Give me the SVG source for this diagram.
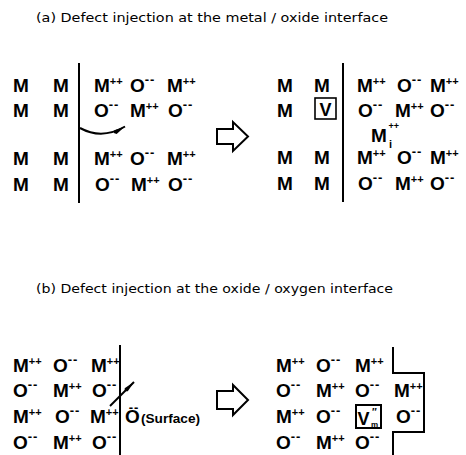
<svg xmlns="http://www.w3.org/2000/svg" width="466" height="455" viewBox="0 0 466 455">
  <defs>
    <style>
      .title { font-family: "DejaVu Sans", "Liberation Sans", sans-serif; font-size: 12px; fill: #000; }
      .ion { font-family: "Liberation Sans", Arial, sans-serif; font-size: 19px; font-weight: bold; fill: #000; }
      .sp { font-size: 11px; }
      .sm { font-size: 13px; letter-spacing: 1px; }
      .small { font-family: "Liberation Sans", Arial, sans-serif; font-size: 12px; font-weight: bold; fill: #000; }
      .line { stroke: #000; stroke-width: 2; fill: none; }
      .box { stroke: #000; stroke-width: 1.6; fill: none; }
      .block { stroke: #000; stroke-width: 2; fill: #fff; stroke-linejoin: miter; }
    </style>
    <marker id="head" markerUnits="userSpaceOnUse" markerWidth="14" markerHeight="6" refX="13" refY="3" orient="auto">
      <path d="M0,3 L2,0.8 L13,3 L2,5.2 Z" fill="#000"/>
    </marker>
  </defs>

  <!-- panel (a) -->
  <text class="title" x="36" y="22" textLength="352" lengthAdjust="spacingAndGlyphs">(a) Defect injection at the metal / oxide interface</text>

  <g id="a-metal-before">
    <text class="ion" x="13" y="92">M</text><text class="ion" x="53" y="92">M</text>
    <text class="ion" x="13" y="117">M</text><text class="ion" x="53" y="117">M</text>
    <text class="ion" x="13" y="165">M</text><text class="ion" x="53" y="165">M</text>
    <text class="ion" x="13" y="191">M</text><text class="ion" x="53" y="191">M</text>
  </g>
  <g id="a-oxide-before">
    <text class="ion" x="94" y="92">M<tspan class="sp" dy="-7">++</tspan></text>
    <text class="ion" x="130" y="92">O<tspan class="sm" dy="-8">--</tspan></text>
    <text class="ion" x="167" y="92">M<tspan class="sp" dy="-7">++</tspan></text>
    <text class="ion" x="94" y="117">O<tspan class="sm" dy="-8">--</tspan></text>
    <text class="ion" x="130" y="117">M<tspan class="sp" dy="-7">++</tspan></text>
    <text class="ion" x="168" y="117">O<tspan class="sm" dy="-8">--</tspan></text>
    <text class="ion" x="94" y="165">M<tspan class="sp" dy="-7">++</tspan></text>
    <text class="ion" x="130" y="165">O<tspan class="sm" dy="-8">--</tspan></text>
    <text class="ion" x="167" y="165">M<tspan class="sp" dy="-7">++</tspan></text>
    <text class="ion" x="95" y="191">O<tspan class="sm" dy="-8">--</tspan></text>
    <text class="ion" x="131" y="191">M<tspan class="sp" dy="-7">++</tspan></text>
    <text class="ion" x="168" y="191">O<tspan class="sm" dy="-8">--</tspan></text>
  </g>

  <g id="a-transform">
    <polygon class="block" points="217,129 233,129 233,122 248,136.5 233,151 233,144 217,144"/>
  </g>

  <g id="a-metal-after">
    <text class="ion" x="277" y="92">M</text><text class="ion" x="314" y="92">M</text>
    <text class="ion" x="277" y="117">M</text>
    <text class="ion" x="277" y="164">M</text><text class="ion" x="314" y="164">M</text>
    <text class="ion" x="277" y="190">M</text><text class="ion" x="314" y="190">M</text>
  </g>
  <g id="a-vacancy">
    <rect class="box" x="315" y="98" width="21" height="21"/>
    <text class="ion" x="325.5" y="116" text-anchor="middle" style="font-size:18px">V</text>
  </g>
  <g id="a-oxide-after">
    <text class="ion" x="357" y="92">M<tspan class="sp" dy="-7">++</tspan></text>
    <text class="ion" x="397" y="92">O<tspan class="sm" dy="-8">--</tspan></text>
    <text class="ion" x="430" y="92">M<tspan class="sp" dy="-7">++</tspan></text>
    <text class="ion" x="358" y="117">O<tspan class="sm" dy="-8">--</tspan></text>
    <text class="ion" x="395" y="117">M<tspan class="sp" dy="-7">++</tspan></text>
    <text class="ion" x="430" y="117">O<tspan class="sm" dy="-8">--</tspan></text>
    <text class="ion" x="357" y="164">M<tspan class="sp" dy="-7">++</tspan></text>
    <text class="ion" x="397" y="164">O<tspan class="sm" dy="-8">--</tspan></text>
    <text class="ion" x="430" y="164">M<tspan class="sp" dy="-7">++</tspan></text>
    <text class="ion" x="358" y="190">O<tspan class="sm" dy="-8">--</tspan></text>
    <text class="ion" x="395" y="190">M<tspan class="sp" dy="-7">++</tspan></text>
    <text class="ion" x="430" y="190">O<tspan class="sm" dy="-8">--</tspan></text>
  </g>
  <g id="a-interstitial">
    <text class="ion" x="371" y="142">M</text>
    <text class="ion" x="388.5" y="129" style="font-size:9px">++</text>
    <text class="ion" x="389" y="148" style="font-size:11px">i</text>
  </g>

  <!-- panel (b) -->
  <text class="title" x="36" y="293" textLength="357" lengthAdjust="spacingAndGlyphs">(b) Defect injection at the oxide / oxygen interface</text>

  <g id="b-oxide-before">
    <text class="ion" x="13" y="372">M<tspan class="sp" dy="-7">++</tspan></text>
    <text class="ion" x="53" y="372">O<tspan class="sm" dy="-8">--</tspan></text>
    <text class="ion" x="91" y="372">M<tspan class="sp" dy="-7">++</tspan></text>
    <text class="ion" x="13" y="397">O<tspan class="sm" dy="-8">--</tspan></text>
    <text class="ion" x="53" y="397">M<tspan class="sp" dy="-7">++</tspan></text>
    <text class="ion" x="92" y="397">O<tspan class="sm" dy="-8">--</tspan></text>
    <text class="ion" x="13" y="423">M<tspan class="sp" dy="-7">++</tspan></text>
    <text class="ion" x="55" y="423">O<tspan class="sm" dy="-8">--</tspan></text>
    <text class="ion" x="90" y="423">M<tspan class="sp" dy="-7">++</tspan></text>
    <text class="ion" x="13" y="449">O<tspan class="sm" dy="-8">--</tspan></text>
    <text class="ion" x="53" y="449">M<tspan class="sp" dy="-7">++</tspan></text>
    <text class="ion" x="92" y="449">O<tspan class="sm" dy="-8">--</tspan></text>
  </g>
  <g id="b-surface">
    <text class="ion" x="125" y="423">O<tspan class="sm" dx="-11" dy="-11">--</tspan></text>
    <text class="small" x="141" y="423" textLength="59" lengthAdjust="spacingAndGlyphs">(Surface)</text>
  </g>

  <g id="b-transform">
    <polygon class="block" points="217,391 233,391 233,385 248,400 233,415 233,409 217,409"/>
  </g>

  <g id="b-oxide-after">
    <text class="ion" x="276" y="372">M<tspan class="sp" dy="-7">++</tspan></text>
    <text class="ion" x="316" y="372">O<tspan class="sm" dy="-8">--</tspan></text>
    <text class="ion" x="355" y="372">M<tspan class="sp" dy="-7">++</tspan></text>
    <text class="ion" x="276" y="397">O<tspan class="sm" dy="-8">--</tspan></text>
    <text class="ion" x="316" y="397">M<tspan class="sp" dy="-7">++</tspan></text>
    <text class="ion" x="355" y="397">O<tspan class="sm" dy="-8">--</tspan></text>
    <text class="ion" x="394" y="397">M<tspan class="sp" dy="-7">++</tspan></text>
    <text class="ion" x="276" y="423">M<tspan class="sp" dy="-7">++</tspan></text>
    <text class="ion" x="316" y="423">O<tspan class="sm" dy="-8">--</tspan></text>
    <text class="ion" x="396" y="423">O<tspan class="sm" dy="-8">--</tspan></text>
    <text class="ion" x="276" y="449">O<tspan class="sm" dy="-8">--</tspan></text>
    <text class="ion" x="316" y="449">M<tspan class="sp" dy="-7">++</tspan></text>
    <text class="ion" x="355" y="449">O<tspan class="sm" dy="-8">--</tspan></text>
  </g>
  <g id="b-vacancy">
    <rect class="box" x="356" y="405" width="25" height="23" style="stroke-width:2"/>
    <text class="ion" x="357.5" y="425" style="font-size:18px">V</text>
    <text class="ion" x="372" y="416" style="font-size:10px">″</text>
    <text class="ion" x="371" y="427" style="font-size:8px">m</text>
  </g>

  <!-- interfaces and moves -->
  <g id="connectors">
    <line class="line" x1="79" y1="63" x2="79" y2="203"/>
    <line class="line" x1="343" y1="63" x2="343" y2="202"/>
    <path class="line" d="M80,128 Q102,140 125,126.5" stroke-width="1.6" marker-end="url(#head)"/>
    <line class="line" x1="120" y1="345" x2="120" y2="455"/>
    <path class="line" d="M393,347 V373 H424 V432 H393 V455"/>
    <line class="line" x1="110" y1="406" x2="134" y2="382" stroke-width="1.6" marker-end="url(#head)"/>
  </g>
</svg>
